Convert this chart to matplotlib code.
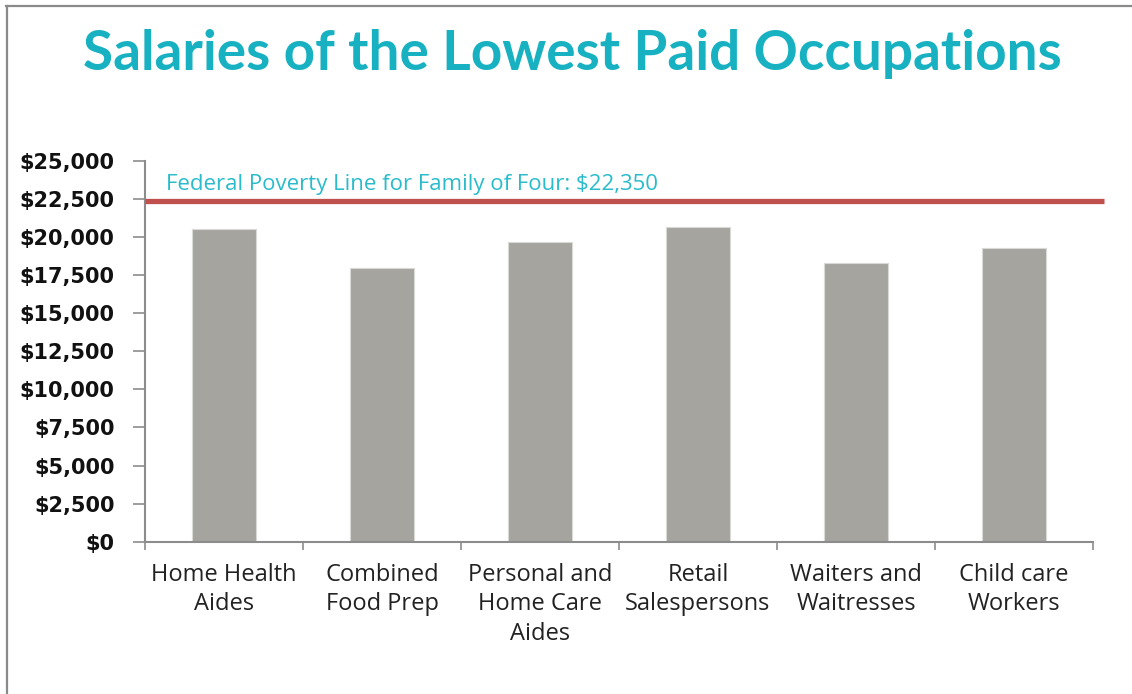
import matplotlib
matplotlib.use("Agg")
import matplotlib.pyplot as plt
from matplotlib.lines import Line2D
from matplotlib.ticker import FixedLocator, FuncFormatter

categories = ["Home Health\nAides", "Combined\nFood Prep", "Personal and\nHome Care\nAides",
              "Retail\nSalespersons", "Waiters and\nWaitresses", "Child care\nWorkers"]
salaries = [20510, 17970, 19660, 20660, 18320, 19270]
poverty_line = 22350
poverty_label = "Federal Poverty Line for Family of Four: $22,350"
title = "Salaries of the Lowest Paid Occupations"
yticks = list(range(0, 25001, 2500))

W, H = 1132, 694
fig = plt.figure(figsize=(W / 100, H / 100), dpi=100)
fig.patch.set_facecolor("white")

def fx(px):
    return px / W

def fy(py):
    return 1 - py / H

ax = fig.add_axes([fx(145), fy(541.7), fx(1093) - fx(145), fy(161) - fy(541.7)])

x = list(range(len(categories)))
ax.bar(x, salaries, width=0.40, color="#A5A49F", edgecolor="#D9D9D6", linewidth=0.8, zorder=2)
ax.set_xlim(-0.5, len(categories) - 0.5)
ax.set_ylim(0, 25000)

axis_color = "#8C8C8C"
for s in ["top", "right"]:
    ax.spines[s].set_visible(False)
for s in ["left", "bottom"]:
    ax.spines[s].set_color(axis_color)
    ax.spines[s].set_linewidth(1.5)

ax.set_yticks(yticks)
ax.yaxis.set_major_formatter(FuncFormatter(lambda v, p: f"${int(v):,}"))
ax.tick_params(axis="y", length=9, width=1.2, color=axis_color, pad=13,
               labelsize=15, labelcolor="#111111")
for lbl in ax.get_yticklabels():
    lbl.set_fontfamily("DejaVu Sans")
    lbl.set_fontweight("bold")

ax.set_xticks(x)
ax.set_xticklabels(categories, fontfamily="Open Sans", fontsize=17, color="#222222", linespacing=1.32)
ax.xaxis.set_minor_locator(FixedLocator([i - 0.5 for i in range(len(categories) + 1)]))
ax.tick_params(axis="x", which="major", length=0, pad=15)
ax.tick_params(axis="x", which="minor", length=6, width=1.2, color=axis_color)

# poverty line extends slightly beyond axes
ax.plot([-0.5, 5.57], [poverty_line, poverty_line], color="#C0504D", linewidth=3.8,
        solid_capstyle="butt", clip_on=False, zorder=3)
ax.text(-0.37, 23450, poverty_label, color="#2BBCCB", fontsize=16, fontfamily="Open Sans",
        va="center", ha="left")

fig.text(fx(572.5), fy(54), title, color="#17B1C1", fontsize=39.5, fontweight="bold",
         fontfamily="Lato", ha="center", va="center")

# frame lines (top and left)
fig.add_artist(Line2D([fx(5.5), 1], [fy(5.5), fy(5.5)], color="#8A8A8A", linewidth=1.6))
fig.add_artist(Line2D([fx(6.5), fx(6.5)], [fy(5.5), 0], color="#8A8A8A", linewidth=1.6))

fig.savefig("out.png", dpi=100, facecolor="white")
